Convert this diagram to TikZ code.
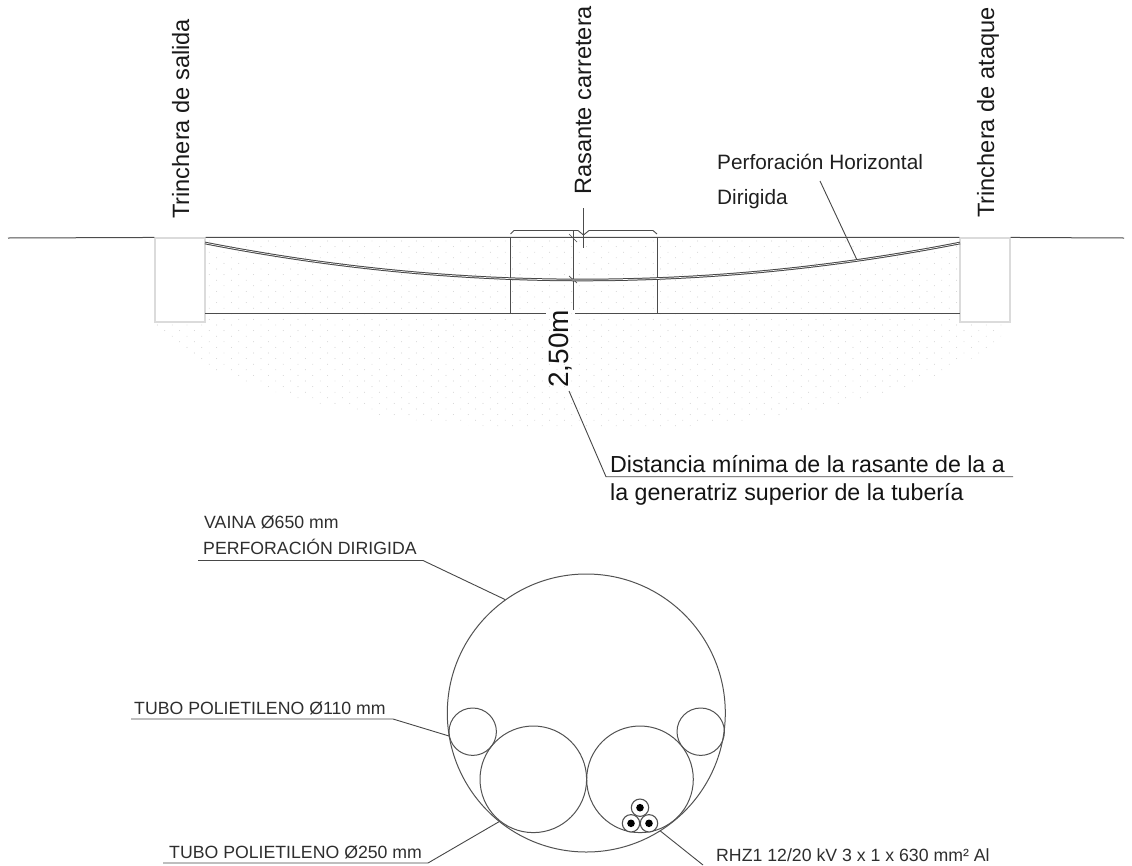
\documentclass[tikz,border=0pt]{standalone}
\usepackage{fontspec}
\setmainfont{Liberation Sans}
\tikzset{
  ln/.style={draw=black!70,line width=1pt},
  leader/.style={draw=black!72,line width=0.9pt},
  circ/.style={circle,draw=black!68,line width=1pt,inner sep=0pt},
  trench/.style={draw=black!14,line width=1.1pt,fill=white,inner sep=0pt,minimum width=50pt,minimum height=84pt},
  lab/.style={inner sep=0pt,anchor=base west,font=\fontsize{20.8}{22}\selectfont,text=black!88},
  vlab/.style={inner sep=0pt,anchor=base west,rotate=90,font=\fontsize{23.6}{25}\selectfont,text=black!90},
  dlab/.style={inner sep=0pt,anchor=base west,font=\fontsize{23.2}{25}\selectfont,text=black!92},
  caplab/.style={inner sep=0pt,anchor=base west,font=\fontsize{17.7}{19}\selectfont,text=black!82},
  dotc/.style={fill=black!26,draw=none}
}
\begin{document}
\begin{tikzpicture}[x=1pt,y=-1pt]
\useasboundingbox (0,0) rectangle (1132,865);
% stipple
\begin{scope}
\clip (583,300) ellipse [x radius=435,y radius=130];
\clip (155,238) rectangle (1010,440);
\foreach \r in {0,...,35}{
  \pgfmathsetmacro{\yy}{241+\r*5.6}
  \pgfmathsetmacro{\off}{mod(\r,2)*7.4}
  \foreach \c in {0,...,58}{
    \fill[dotc] ({150+\off+\c*14.8},\yy) circle (0.42);
  }
}
\end{scope}
% ground
\coordinate (gl) at (8,238); \coordinate (gr) at (1124,238);
\node[trench] (tl) at (180,280) {};
\node[trench] (tr) at (985,280) {};
\draw[ln] (gl) -- (tl.north west) (tl.north east) -- (tr.north west) (tr.north east) -- (gr);
% bottom line
\coordinate (bl) at (205,313); \coordinate (bm1) at (546,313); \coordinate (bm2) at (575,313); \coordinate (br) at (960,313);
\draw[ln] (bl) -- (bm1) (bm2) -- (br);
% verticals
\coordinate (v1t) at (510.5,238); \coordinate (v1b) at (510.5,313);
\coordinate (v2t) at (573,231); \coordinate (v2b) at (573,310);
\coordinate (v3t) at (657,238); \coordinate (v3b) at (657,313);
\draw[ln] (v1t) -- (v1b) (v2t) -- (v2b) (v3t) -- (v3b);
% brace
\coordinate (b1) at (510.5,234); \coordinate (b2) at (514,230.5); \coordinate (b3) at (578,230.5);
\coordinate (b4) at (583.5,235); \coordinate (b5) at (589,230.5); \coordinate (b6) at (653,230.5); \coordinate (b7) at (657,234);
\draw[ln,line width=0.9pt] (b1) -- (b2) -- (b3) -- (b4) -- (b5) -- (b6) -- (b7);
\coordinate (rt) at (583.5,208); \coordinate (rb) at (583.5,248);
\draw[ln] (rt) -- (rb);
% ticks
\coordinate (t1a) at (569,234); \coordinate (t1b) at (577,242);
\coordinate (t2a) at (569,276); \coordinate (t2b) at (577,283);
\draw[ln,line width=0.7pt] (t1a) -- (t1b) (t2a) -- (t2b);
% pipe
\coordinate (pa) at (205,243); \coordinate (pc1) at (457,292.3); \coordinate (pc2) at (708,292.3); \coordinate (pb) at (960,243);
\draw[draw=black!72,line width=2.6pt] (pa) .. controls (pc1) and (pc2) .. (pb);
\draw[draw=white,line width=0.6pt] (pa) .. controls (pc1) and (pc2) .. (pb);
% top labels
\node[vlab] (l1) at (189,219) {Trinchera de salida};
\node[vlab] (l2) at (591,195) {Rasante carretera};
\node[vlab] (l3) at (994,218) {Trinchera de ataque};
\node[lab] (l4) at (717,169) {Perforación Horizontal};
\node[lab] (l5) at (717,204) {Dirigida};
\coordinate (pl1) at (820,181); \coordinate (pl2) at (857,260);
\draw[leader] (pl1) -- (pl2);
% 2,50m
\node[inner sep=0pt,anchor=base west,rotate=90,font=\fontsize{28}{30}\selectfont,text=black!92] (d250) at (568,388) {2,50m};
\node[dlab] (dm1) at (610,472.7) {Distancia mínima de la rasante de la a};
\node[dlab] (dm2) at (610,500) {la generatriz superior de la tubería};
\coordinate (dl1) at (569,391); \coordinate (dl2) at (606,476.7); \coordinate (dl3) at (1013,476.7);
\draw[leader] (dl1) -- (dl2) -- (dl3);
% circles
\node[circ,minimum size=278pt] (big) at (586.3,713) {};
\node[circ,minimum size=47.4pt] (s1) at (472.7,731.7) {};
\node[circ,minimum size=47.4pt] (s2) at (700.7,731.7) {};
\node[circ,minimum size=106.6pt] (m1) at (533.3,779.3) {};
\node[circ,minimum size=106.6pt] (m2) at (640,779.3) {};
\foreach \n/\px/\py in {c1/640/807.7,c2/631/823.3,c3/649/823.3}{
  \node[circ,line width=1.1pt,fill=white,minimum size=17.4pt] (\n) at (\px,\py) {};
  \fill[black] (\n) circle (3.8);
}
% caption labels
\node[caplab] (v1) at (204,528) {VAINA Ø650 mm};
\node[caplab] (v2) at (203,554) {PERFORACIÓN DIRIGIDA};
\coordinate (va) at (198,560.5); \coordinate (vb) at (423,560.5); \coordinate (vc) at (505,599.5);
\draw[leader] (va) -- (vb) -- (vc);
\node[caplab] (t1) at (134,714) {TUBO POLIETILENO Ø110 mm};
\coordinate (ta) at (131,719); \coordinate (tb) at (393,719); \coordinate (tc) at (449,736);
\draw[leader] (ta) -- (tb) -- (tc);
\node[caplab] (t2) at (169,858) {TUBO POLIETILENO Ø250 mm};
\coordinate (ua) at (163,863); \coordinate (ub) at (428,863); \coordinate (uc) at (499,821.7);
\draw[leader] (ua) -- (ub) -- (uc);
\node[caplab] (r1) at (716,861.5) {RHZ1 12/20 kV 3 x 1 x 630 mm² Al};
\coordinate (ra) at (660,830.7); \coordinate (rbb) at (703,865);
\draw[leader] (ra) -- (rbb);
\end{tikzpicture}
\end{document}
